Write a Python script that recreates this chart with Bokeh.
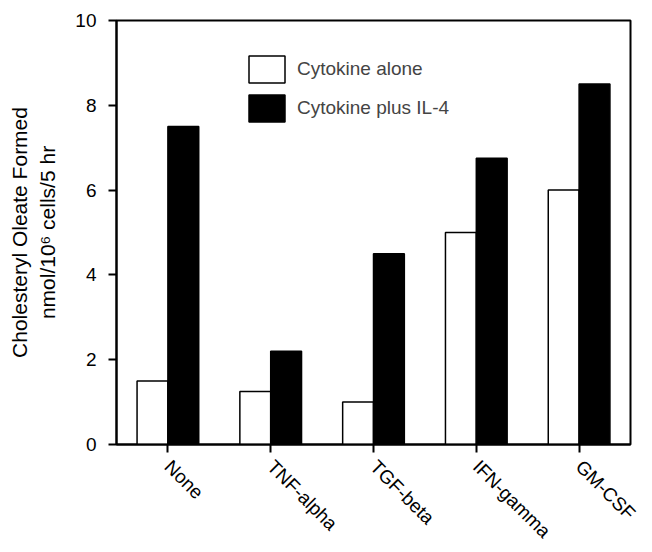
import math
from bokeh.plotting import figure
from bokeh.models import (FactorRange, Range1d, FixedTicker, ColumnDataSource, Legend,
                          LegendItem)
from bokeh.transform import dodge
from bokeh.embed import file_html
from bokeh.resources import INLINE

categories = ["None", "TNF-alpha", "TGF-beta", "IFN-gamma", "GM-CSF"]
cytokine_alone = [1.5, 1.25, 1.0, 5.0, 6.0]
cytokine_plus_il4 = [7.5, 2.2, 4.5, 6.75, 8.5]
y_ticks = [0, 2, 4, 6, 8, 10]
y_label = "Cholesteryl Oleate Formed\nnmol/10\u2076 cells/5 hr"

FONT = "Liberation Sans"

src = ColumnDataSource(dict(cat=categories, alone=cytokine_alone, plus=cytokine_plus_il4))

p = figure(width=652, height=552, x_range=FactorRange(*categories, range_padding=0),
           y_range=Range1d(0, 10), output_backend="svg", toolbar_location=None,
           min_border_left=116, min_border_right=22, min_border_top=20, min_border_bottom=105)
p.grid.visible = False
p.outline_line_color = "black"
p.outline_line_width = 2
p.background_fill_color = "white"
p.border_fill_color = "white"

r1 = p.vbar(x=dodge("cat", -0.15, range=p.x_range), top="alone", width=0.3, source=src,
            fill_color="white", line_color="black", line_width=1.5)
r2 = p.vbar(x=dodge("cat", 0.15, range=p.x_range), top="plus", width=0.3, source=src,
            fill_color="black", line_color="black", line_width=1.5)

legend = Legend(items=[LegendItem(label="Cytokine alone", renderers=[r1]),
                       LegendItem(label="Cytokine plus IL-4", renderers=[r2])],
                location=(128, 319))
legend.glyph_width = 45
legend.glyph_height = 34
legend.spacing = 5
legend.padding = 0
legend.margin = 0
legend.label_standoff = 8
legend.label_text_font = FONT
legend.label_text_font_size = "19px"
legend.border_line_color = None
legend.background_fill_alpha = 0
p.add_layout(legend)

p.yaxis.ticker = FixedTicker(ticks=y_ticks)
p.yaxis.minor_tick_line_color = None
p.yaxis.major_tick_out = 8
p.yaxis.major_tick_in = 0
p.yaxis.major_tick_line_width = 2
p.yaxis.axis_line_width = 2
p.yaxis.major_label_standoff = 12
p.yaxis.major_label_text_font = FONT
p.yaxis.major_label_text_font_size = "19px"
p.yaxis.major_label_text_color = "black"
p.yaxis.axis_label = y_label
p.yaxis.axis_label_text_font = FONT
p.yaxis.axis_label_text_font_style = "normal"
p.yaxis.axis_label_text_font_size = "21px"
p.yaxis.axis_label_text_line_height = 1.25
p.yaxis.axis_label_text_color = "black"
p.yaxis.axis_label_standoff = 13

p.xaxis.major_tick_out = 8
p.xaxis.major_tick_in = 0
p.xaxis.major_tick_line_width = 2
p.xaxis.axis_line_width = 2
p.xaxis.major_label_orientation = -math.pi / 4
p.xaxis.major_label_text_font = FONT
p.xaxis.major_label_text_font_size = "19px"
p.xaxis.major_label_text_color = "black"
p.xaxis.major_label_standoff = 11

open("out.html", "w").write(file_html(p, INLINE))
